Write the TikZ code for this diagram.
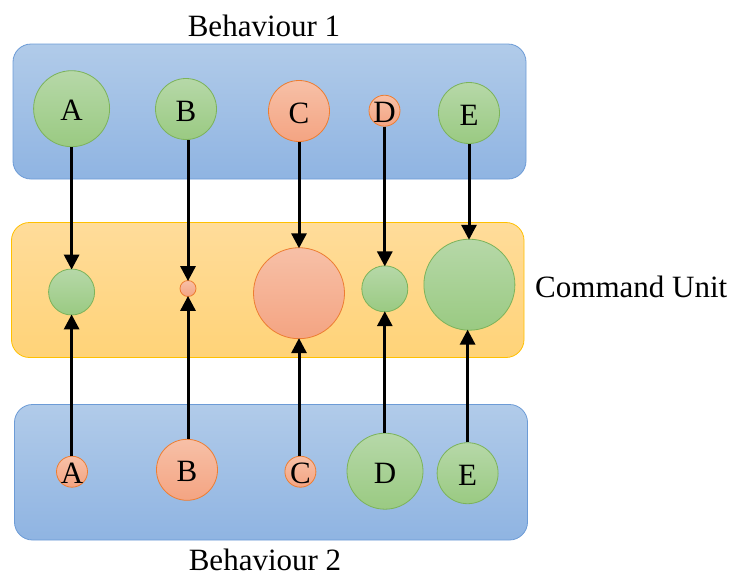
\documentclass[tikz,border=0pt]{standalone}
\usepackage{fontspec}
\setmainfont{Liberation Serif}
\usetikzlibrary{arrows.meta}
\definecolor{bluetop}{HTML}{B1CBE9}
\definecolor{bluebot}{HTML}{8FB4E2}
\definecolor{blueline}{HTML}{6C9BD6}
\definecolor{yeltop}{HTML}{FFDC9A}
\definecolor{yelbot}{HTML}{FFD378}
\definecolor{yelline}{HTML}{FFC000}
\definecolor{grntop}{HTML}{B6D8A8}
\definecolor{grnbot}{HTML}{9ACA82}
\definecolor{grnline}{HTML}{7CB35A}
\definecolor{orgtop}{HTML}{F7C0A7}
\definecolor{orgbot}{HTML}{F4A482}
\definecolor{orgline}{HTML}{ED7D31}
\tikzset{
  txt/.style={font=\fontsize{31}{36}\selectfont, inner sep=0pt},
  bluepanel/.style={draw=blueline, line width=0.8pt, rounded corners=18pt, top color=bluetop, bottom color=bluebot},
  yelpanel/.style={draw=yelline, line width=0.8pt, rounded corners=18pt, top color=yeltop, bottom color=yelbot},
  gball/.style={circle, draw=grnline, line width=0.8pt, top color=grntop, bottom color=grnbot, inner sep=0pt, minimum size=#1},
  oball/.style={circle, draw=orgline, line width=0.8pt, top color=orgtop, bottom color=orgbot, inner sep=0pt, minimum size=#1},
  lab/.style={label={[txt, yshift=-2pt]center:#1}},
  conn/.style={line width=3pt, -{Triangle[width=15pt,length=15pt]}, shorten >=-1pt}
}
\begin{document}
\begin{tikzpicture}[x=1pt,y=-1pt]
\useasboundingbox (0,0) rectangle (738,576);
% panels
\draw[bluepanel] (13,44) rectangle (526,179);
\draw[yelpanel] (11.5,222.5) rectangle (524,357.5);
\draw[bluepanel] (14.5,404.5) rectangle (527.5,540);
% titles
\node[txt, anchor=base] (t1) at (264,36.7) {Behaviour 1};
\node[txt, anchor=base] (t2) at (265,570) {Behaviour 2};
\node[txt, anchor=base west] (t3) at (535,297.3) {Command Unit};
% top row
\node[gball=76pt, lab=A] (a1) at (71.6,108.7) {};
\node[gball=61pt, lab=B] (b1) at (186,109) {};
\node[oball=61pt, lab=C] (c1) at (299,111) {};
\node[oball=31pt, lab=D] (d1) at (384.5,110.7) {};
\node[gball=61pt, lab=E] (e1) at (469,113) {};
% middle row
\node[gball=46pt] (a2) at (71.6,292) {};
\node[oball=16pt] (b2) at (188,288.5) {};
\node[oball=91pt] (c2) at (299,293.2) {};
\node[gball=46pt] (d2) at (384.8,288.8) {};
\node[gball=91pt] (e2) at (469.4,284.7) {};
% bottom row
\node[oball=31pt, lab=A] (a3) at (72,471.7) {};
\node[oball=61pt, lab=B] (b3) at (187,469.8) {};
\node[oball=31pt, lab=C] (c3) at (300.4,471.7) {};
\node[gball=76pt, lab=D] (d3) at (385,471.2) {};
\node[gball=61pt, lab=E] (e3) at (467.6,473.2) {};
% connectors (kept vertical)
\draw[conn] (a1.south -| a2.north) -- (a2.north);
\draw[conn] (b1.south -| b2.north) -- (b2.north);
\draw[conn] (c1.south -| c2.north) -- (c2.north);
\draw[conn] (d1.south -| d2.north) -- (d2.north);
\draw[conn] (e1.south) -- (e1.south |- e2.north);
\draw[conn] (a3.north -| a2.south) -- (a2.south);
\draw[conn] (b3.north -| b2.south) -- (b2.south);
\draw[conn] (c3.north -| c2.south) -- (c2.south);
\draw[conn] (d3.north -| d2.south) -- (d2.south);
\draw[conn] (e3.north) -- (e3.north |- e2.south);
\end{tikzpicture}
\end{document}
